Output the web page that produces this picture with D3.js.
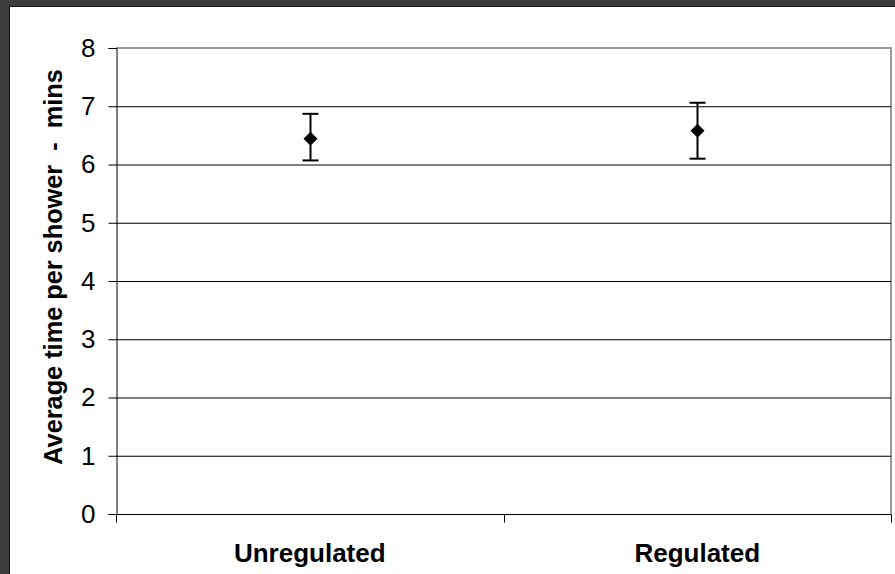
<!DOCTYPE html>
<html><head><meta charset="utf-8">
<script src="https://cdn.jsdelivr.net/npm/d3@7"></script>
<style>body{margin:0;background:#3c3c3c;}svg{display:block;}</style>
</head><body>
<svg id="c" width="895" height="574"></svg>
<script>
const categories = ["Unregulated", "Regulated"];
const means = [6.44, 6.58];
const upper = [6.87, 7.06];
const lower = [6.07, 6.10];
const yTicks = [0, 1, 2, 3, 4, 5, 6, 7, 8];
const yTitle = "Average time per shower  -  mins";

const FONT = "Liberation Sans, Arial, sans-serif";
const svg = d3.select("#c");
svg.append("rect").attr("x", 0).attr("y", 0).attr("width", 895).attr("height", 574).attr("fill", "#3c3c3c");
svg.append("rect").attr("x", 9).attr("y", 6).attr("width", 886).attr("height", 568).attr("fill", "#111");
svg.append("rect").attr("x", 10).attr("y", 7).attr("width", 885).attr("height", 567).attr("fill", "#fff");

const L = 116, R = 891, T = 48, B = 514;
const x = d3.scaleBand().domain(categories).range([L, R]);
const y = d3.scaleLinear().domain([0, 8]).range([B, T]);

// plot border (gray) top & right
svg.append("path").attr("d", `M${L},${T}H${R}V${B}`).attr("fill", "none").attr("stroke", "#999").attr("stroke-width", 2);

// gridlines
svg.append("g").selectAll("line").data(yTicks.filter(d => d > 0 && d < 8)).join("line")
  .attr("x1", L).attr("x2", R).attr("y1", d => y(d) + 0.5).attr("y2", d => y(d) + 0.5)
  .attr("stroke", "#000").attr("stroke-width", 1);

// y axis
const ya = svg.append("g").attr("transform", `translate(${L + 0.5},0)`)
  .call(d3.axisLeft(y).tickValues(yTicks).tickSize(8).tickPadding(13).tickFormat(d3.format("d")));
ya.attr("font-size", null).attr("font-family", null);
ya.select(".domain").attr("stroke", "#000");
ya.selectAll(".tick line").attr("stroke", "#000");
ya.selectAll(".tick text").attr("font-family", FONT).style("font-size", "26px").attr("fill", "#000");

// x axis
const xa = svg.append("g").attr("transform", `translate(0,${B + 0.5})`);
xa.append("line").attr("x1", L).attr("x2", R).attr("stroke", "#000");
const bounds = [L, ...categories.map(c => x(c) + x.bandwidth())];
xa.selectAll("line.t").data(bounds).join("line").attr("class", "t")
  .attr("x1", d => Math.round(d) + 0.5).attr("x2", d => Math.round(d) + 0.5).attr("y1", 0).attr("y2", 8).attr("stroke", "#000");
xa.selectAll("text").data(categories).join("text")
  .attr("x", d => x(d) + x.bandwidth() / 2).attr("y", 47)
  .attr("text-anchor", "middle").attr("font-family", FONT)
  .attr("font-weight", "bold").style("font-size", "26px").attr("fill", "#000").text(d => d);

// y title
svg.append("text").attr("transform", `translate(62,267) rotate(-90)`)
  .attr("text-anchor", "middle").attr("font-family", FONT)
  .attr("font-weight", "bold").style("font-size", "25.3px").attr("fill", "#000")
  .style("white-space", "pre").text(yTitle);

// error bars and points
const g = svg.append("g");
categories.forEach((c, i) => {
  const cx = Math.round(x(c) + x.bandwidth() / 2) + 0.5;
  g.append("line").attr("x1", cx).attr("x2", cx).attr("y1", y(upper[i])).attr("y2", y(lower[i])).attr("stroke", "#000").attr("stroke-width", 2);
  [upper[i], lower[i]].forEach(v => {
    g.append("line").attr("x1", cx - 8).attr("x2", cx + 8).attr("y1", y(v)).attr("y2", y(v)).attr("stroke", "#000").attr("stroke-width", 2);
  });
  const cy = y(means[i]);
  g.append("path").attr("d", `M${cx},${cy - 7}L${cx + 7},${cy}L${cx},${cy + 7}L${cx - 7},${cy}Z`).attr("fill", "#000");
});
</script>
</body></html>
